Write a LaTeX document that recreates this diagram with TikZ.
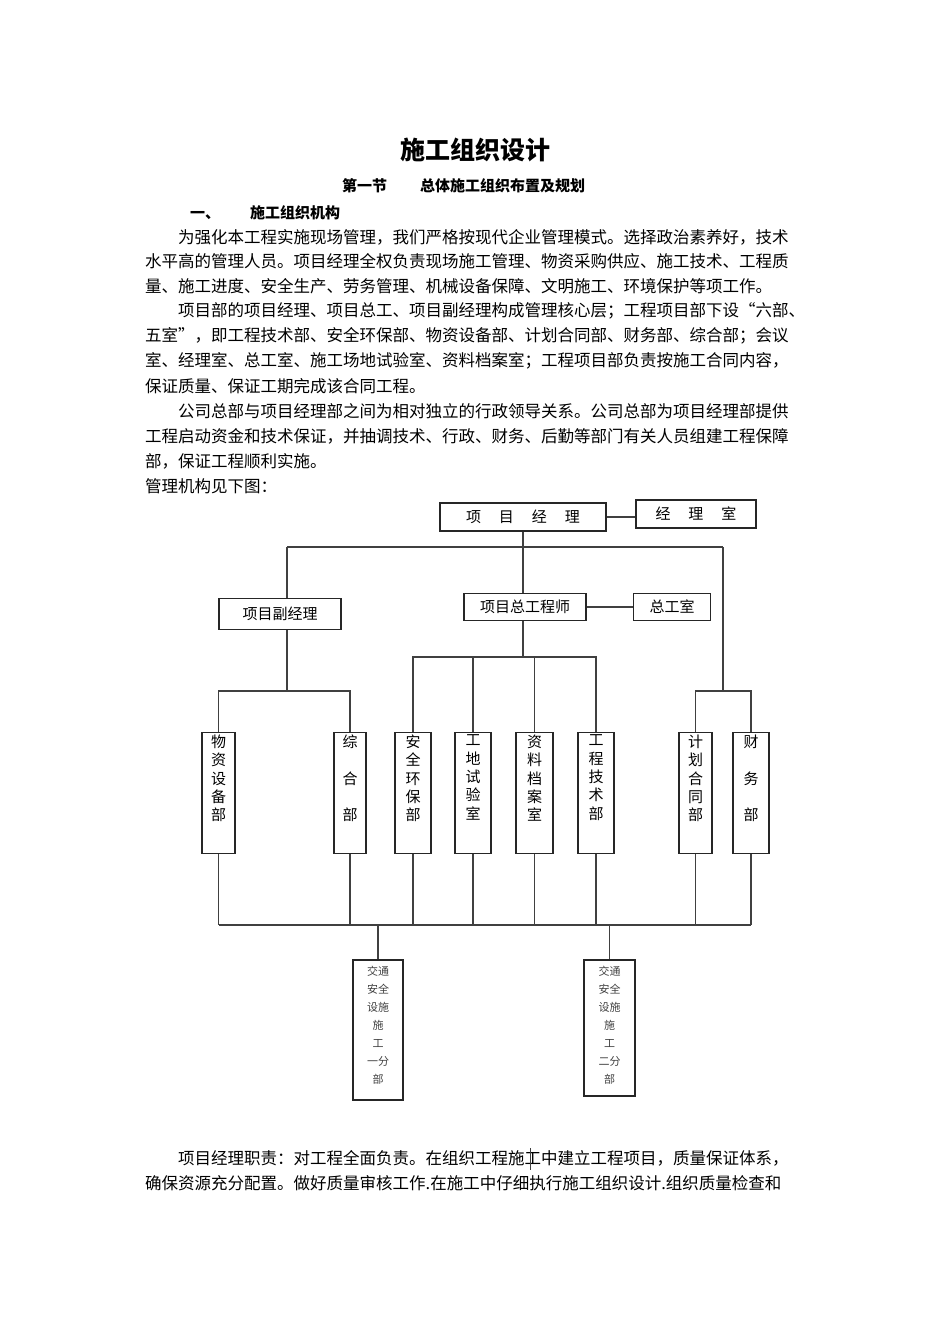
\documentclass[tikz,border=0pt]{standalone}
\usepackage{fontspec}
\newfontfamily\cjk{Noto Sans CJK SC}
\begin{document}
\begin{tikzpicture}[x=1pt,y=-1pt,
  every node/.style={font=\cjk},
  txt/.style={anchor=west,inner sep=0,font=\cjk\fontsize{16.5}{18}\selectfont},
  bx/.style={draw=black!85,line width=1.3pt,inner sep=0,minimum width=#1},
  vt/.style={anchor=north,inner sep=0,align=center,font=\cjk\fontsize{15}{18.3}\selectfont},
  vt3/.style={anchor=north,inner sep=0,align=center,font=\cjk\fontsize{15}{36.5}\selectfont},
  vs/.style={anchor=north,inner sep=0,align=center,font=\cjk\fontsize{11}{18}\selectfont,text=black!75},
  ln/.style={draw=black!75,line width=1.3pt}]
\useasboundingbox (0,0) rectangle (950,1344);
\node[font=\cjk\bfseries\fontsize{25}{28}\selectfont] (title) at (475,150) {施工组织设计};
\node[font=\cjk\bfseries\fontsize{15}{18}\selectfont,anchor=west,inner sep=0] (sec) at (342,186) {第一节\hspace{2.2em}总体施工组织布置及规划};
\node[font=\cjk\bfseries\fontsize{15}{18}\selectfont,anchor=west,inner sep=0] (sub) at (190,213) {一、\hspace{2em}施工组织机构};
\node[txt] (p1) at (178,237) {为强化本工程实施现场管理，我们严格按现代企业管理模式。选择政治素养好，技术};
\node[txt] (p2) at (145,261) {水平高的管理人员。项目经理全权负责现场施工管理、物资采购供应、施工技术、工程质};
\node[txt] (p3) at (145,286) {量、施工进度、安全生产、劳务管理、机械设备保障、文明施工、环境保护等项工作。};
\node[txt] (p4) at (178,311) {项目部的项目经理、项目总工、项目副经理构成管理核心层；工程项目部下设“六部、};
\node[txt] (p5) at (145,336) {五室”，即工程技术部、安全环保部、物资设备部、计划合同部、财务部、综合部；会议};
\node[txt] (p6) at (145,361) {室、经理室、总工室、施工场地试验室、资料档案室；工程项目部负责按施工合同内容，};
\node[txt] (p7) at (145,386) {保证质量、保证工期完成该合同工程。};
\node[txt] (p8) at (178,411) {公司总部与项目经理部之间为相对独立的行政领导关系。公司总部为项目经理部提供};
\node[txt] (p9) at (145,436) {工程启动资金和技术保证，并抽调技术、行政、财务、后勤等部门有关人员组建工程保障};
\node[txt] (p10) at (145,461) {部，保证工程顺利实施。};
\node[txt] (p11) at (145,486) {管理机构见下图：};
\node[txt] (p12) at (178,1158) {项目经理职责：对工程全面负责。在组织工程施工中建立工程项目，质量保证体系，};
\node[txt] (p13) at (145,1183) {确保资源充分配置。做好质量审核工作.在施工中仔细执行施工组织设计.组织质量检查和};
\draw[ln,line width=0.8pt] (530,1148) coordinate (s1) -- (530,1170) coordinate (s2);
% top
\node[bx=166pt,minimum height=28pt,font=\cjk\fontsize{15}{18}\selectfont] (pm) at (523,517) {项\hspace{1.2em}目\hspace{1.2em}经\hspace{1.2em}理};
\node[bx=120pt,minimum height=28pt,font=\cjk\fontsize{15}{18}\selectfont] (pmo) at (696,514) {经\hspace{1.2em}理\hspace{1.2em}室};
\node[bx=122pt,minimum height=31pt,font=\cjk\fontsize{15}{18}\selectfont] (dpm) at (280,614) {项目副经理};
\node[bx=122pt,minimum height=27pt,font=\cjk\fontsize{15}{18}\selectfont] (ce) at (525,607) {项目总工程师};
\node[bx=77pt,minimum height=27pt,font=\cjk\fontsize{15}{18}\selectfont] (ceo) at (672,607) {总工室};
\draw[ln] (pm.east) -- (pm.east -| pmo.west);
\draw[ln] (ce.east) -- (ce.east -| ceo.west);
\coordinate (j1) at (523,547);
\draw[ln] (pm.south -| j1) -- (j1);
\draw[ln] (287,547) coordinate (jl) -- (723,547) coordinate (jr);
\draw[ln] (jl) -- (jl |- dpm.north);
\draw[ln] (j1) -- (j1 |- ce.north);
% departments
\foreach \n/\x/\w/\t in {d1/218.5/33/{},d2/350/32/{},d3/413/36/{},d4/473/36/{},d5/534.5/37/{},d6/596/36/{},d7/695.5/33/{},d8/751/36/{}}{
  \node[bx=\w pt,minimum height=121pt] (\n) at (\x,793) {};
}
\node[vt] (t1) at ([yshift=-3pt]d1.north) {物\\资\\设\\备\\部};
\node[vt3] (t2) at ([yshift=-3pt]d2.north) {综\\合\\部};
\node[vt] (t3) at ([yshift=-3pt]d3.north) {安\\全\\环\\保\\部};
\node[vt] (t4) at ([yshift=-3pt]d4.north) {工\\地\\试\\验\\室};
\node[vt] (t5) at ([yshift=-3pt]d5.north) {资\\料\\档\\案\\室};
\node[vt] (t6) at ([yshift=-3pt]d6.north) {工\\程\\技\\术\\部};
\node[vt] (t7) at ([yshift=-3pt]d7.north) {计\\划\\合\\同\\部};
\node[vt3] (t8) at ([yshift=-3pt]d8.north) {财\\务\\部};
% deputy branch
\draw[ln] (dpm.south -| jl) -- (287,691);
\draw[ln] (d1.north) |- (287,691) -| (d2.north);
% chief engineer branch
\draw[ln] (ce.south -| j1) -- (523,657);
\draw[ln] (d3.north) |- (523,657) -| (d6.north);
\draw[ln] (d4.north) -- (d4.north |- 0,657);
\draw[ln] (d5.north) -- (d5.north |- 0,657);
% right branch
\draw[ln] (jr) -- (723,691);
\draw[ln] (d7.north) |- (723,691) -| (d8.north);
% bottom bus
\foreach \n in {d1,d2,d3,d4,d5,d6,d7,d8}{\draw[ln] (\n.south) -- (\n.south |- 0,925);}
\draw[ln] (d1.south |- 0,925) -- (d8.south |- 0,925);
\node[bx=50pt,minimum height=140pt] (b1) at (378,1030) {};
\node[bx=51pt,minimum height=136pt] (b2) at (609.5,1028) {};
\node[vs] (u1) at ([yshift=-7pt]b1.north) {交通\\安全\\设施\\施\\工\\一分\\部};
\node[vs] (u2) at ([yshift=-7pt]b2.north) {交通\\安全\\设施\\施\\工\\二分\\部};
\draw[ln] (b1.north) -- (b1.north |- 0,925);
\draw[ln] (b2.north) -- (b2.north |- 0,925);
\end{tikzpicture}
\end{document}
